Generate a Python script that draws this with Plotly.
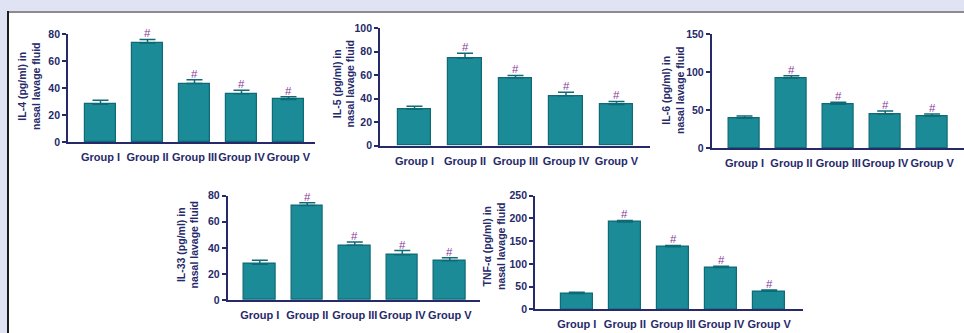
import plotly.graph_objects as go

W, H = 964, 333

groups = ["Group I", "Group II", "Group III", "Group IV", "Group V"]

il4_mean = [28.0, 73.3, 43.3, 35.7, 31.5]
il4_sem = [3.0, 2.7, 2.9, 2.6, 2.0]
il5_mean = [31.0, 74.5, 57.8, 42.5, 35.2]
il5_sem = [2.7, 4.2, 2.0, 3.0, 2.5]
il6_mean = [39.5, 92.5, 58.0, 45.0, 42.5]
il6_sem = [3.0, 3.0, 2.5, 4.0, 2.5]
il33_mean = [27.5, 72.5, 42.0, 34.7, 30.2]
il33_sem = [3.0, 2.0, 2.5, 3.2, 2.3]
tnf_mean = [34.5, 192.0, 137.5, 92.0, 39.5]
tnf_sem = [3.0, 3.5, 3.0, 3.0, 3.0]

# "#" = significant vs Group I
sig = ["", "#", "#", "#", "#"]

titles = ["IL-4 (pg/ml) in<br>nasal lavage fluid",
          "IL-5 (pg/ml) in<br>nasal lavage fluid",
          "IL-6 (pg/ml) in<br>nasal lavage fluid",
          "IL-33 (pg/ml) in<br>nasal lavage fluid",
          "TNF-α (pg/ml) in<br>nasal lavage fluid"]
means = [il4_mean, il5_mean, il6_mean, il33_mean, tnf_mean]
sems = [il4_sem, il5_sem, il6_sem, il33_sem, tnf_sem]
ymax = [80, 100, 150, 80, 250]
ystep = [20, 20, 50, 20, 50]

# panel geometry in pixels: axis x start/end, first bar centre, bar spacing,
# y pixel of zero, y pixel of top tick, title centre (x, y)
panels = [
    dict(x0=68, x1=315, c0=100.5, dx=47.0, yb=142, yt=34, tx=29, ty=86),
    dict(x0=380, x1=650, c0=414.5, dx=50.5, yb=145.7, yt=28.3, tx=343.5, ty=84),
    dict(x0=711.7, x1=964, c0=744.5, dx=46.9, yb=148.3, yt=34.3, tx=673, ty=90),
    dict(x0=227.7, x1=480, c0=259.8, dx=47.5, yb=300, yt=195.7, tx=187.5, ty=245),
    dict(x0=535, x1=803, c0=576.8, dx=48.1, yb=309.3, yt=195.7, tx=494, ty=246),
]

NAVY = "#272a6a"
BAR = "#1b8b98"
BAR_EDGE = "#0e6a75"
HASH = "#8b3a9c"
LAVENDER = "#e0e3f3"
FONT = "Liberation Sans"

fig = go.Figure()

# lavender surround at top and left, grey top rule, dark left rule
fig.add_shape(type="rect", xref="paper", yref="paper",
              x0=0, x1=1, y0=1 - 12 / H, y1=1,
              fillcolor=LAVENDER, line_width=0, layer="below")
fig.add_shape(type="rect", xref="paper", yref="paper",
              x0=0, x1=8 / W, y0=0, y1=1,
              fillcolor=LAVENDER, line_width=0, layer="below")
fig.add_shape(type="line", xref="paper", yref="paper",
              x0=7 / W, x1=1, y0=1 - 12 / H, y1=1 - 12 / H,
              line=dict(color="#8c8c8e", width=2))
fig.add_shape(type="line", xref="paper", yref="paper",
              x0=8 / W, x1=8 / W, y0=0, y1=1 - 11 / H,
              line=dict(color="#1c1c1c", width=2))

xs = list(range(len(groups)))
for i, p in enumerate(panels):
    n = "" if i == 0 else str(i + 1)
    xa, ya = "x" + n, "y" + n
    fig.add_trace(go.Bar(
        x=xs, y=means[i], xaxis=xa, yaxis=ya, width=0.66,
        marker=dict(color=BAR, line=dict(color=BAR_EDGE, width=1.2)),
        error_y=dict(type="data", symmetric=False, array=sems[i],
                     arrayminus=[0] * len(groups),
                     color=BAR_EDGE, thickness=1.5, width=8),
        cliponaxis=False, showlegend=False,
    ))
    left = -(p["c0"] - p["x0"]) / p["dx"]
    right = (len(groups) - 1) + (p["x1"] - (p["c0"] + (len(groups) - 1) * p["dx"])) / p["dx"]
    axis_common = dict(showline=True, linecolor=NAVY, linewidth=1.8,
                       ticks="outside", tickwidth=1.5,
                       showgrid=False, zeroline=False, fixedrange=True,
                       automargin=False, tickangle=0)
    yt = list(range(0, ymax[i] + 1, ystep[i]))
    fig.layout["xaxis" + n] = dict(
        domain=[p["x0"] / W, min(p["x1"] / W, 1.0)], anchor=ya,
        range=[left, right], tickvals=xs,
        ticktext=["<b>%s</b>" % g for g in groups],
        ticklen=4, tickcolor="rgba(0,0,0,0)",
        tickfont=dict(family=FONT, size=11, color=NAVY),
        **axis_common)
    fig.layout["yaxis" + n] = dict(
        domain=[1 - p["yb"] / H, 1 - p["yt"] / H], anchor=xa,
        range=[0, ymax[i]], tickvals=yt,
        ticktext=["<b>%d</b>" % v for v in yt],
        ticklen=4, tickcolor=NAVY,
        tickfont=dict(family=FONT, size=10.5, color=NAVY),
        **axis_common)
    fig.add_annotation(
        xref="paper", yref="paper", x=p["tx"] / W, y=1 - p["ty"] / H,
        text="<b>%s</b>" % titles[i], textangle=-90, showarrow=False,
        xanchor="center", yanchor="middle",
        font=dict(family=FONT, size=10.5, color=NAVY))
    for j, s in enumerate(sig):
        if s:
            fig.add_annotation(
                xref=xa, yref=ya, x=xs[j], y=means[i][j] + sems[i][j],
                text=s, showarrow=False, yanchor="bottom", yshift=-2,
                font=dict(family=FONT, size=11.5, color=HASH))

fig.update_layout(width=W, height=H, margin=dict(l=0, r=0, t=0, b=0),
                  paper_bgcolor="white", plot_bgcolor="rgba(0,0,0,0)",
                  bargap=0)
fig.write_html("out.html")
